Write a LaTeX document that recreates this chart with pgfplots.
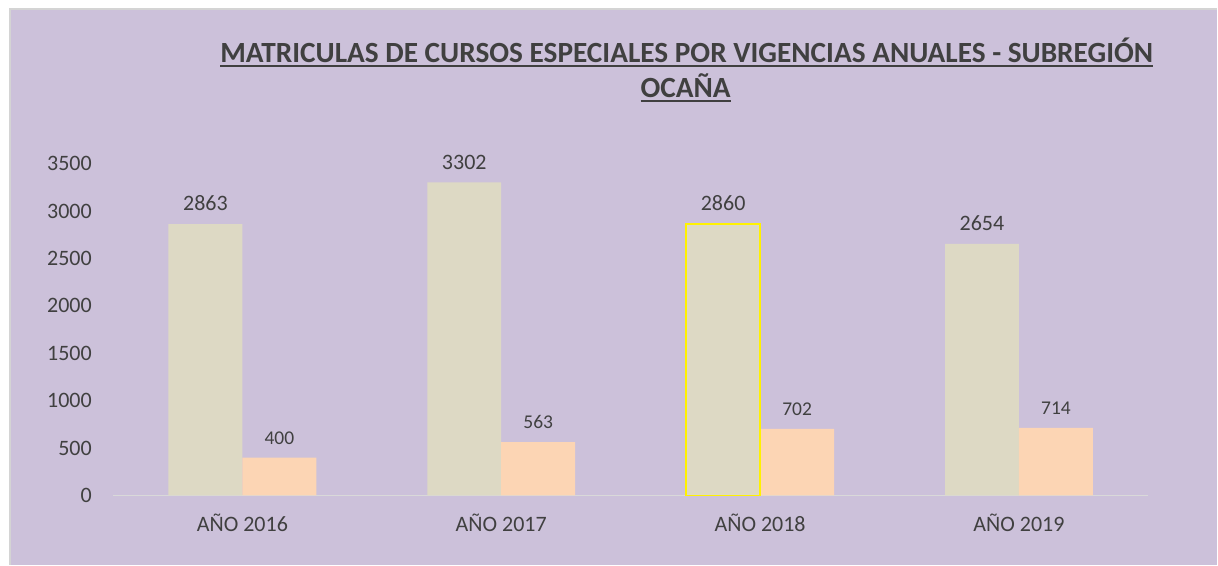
\documentclass[border=0pt]{standalone}
\usepackage{pgfplots}
\pgfplotsset{compat=1.18}
\usepackage{fontspec}
\setmainfont{Carlito}
\definecolor{bg}{HTML}{CCC1DA}
\definecolor{beige}{HTML}{DDD9C4}
\definecolor{peach}{HTML}{FCD5B4}
\definecolor{txt}{HTML}{404040}
\definecolor{baseln}{HTML}{D9D9D9}
\definecolor{frame}{HTML}{D4D4D4}
\newcommand\ul[1]{\setbox0\hbox{#1}\rlap{\rule[-4pt]{\wd0}{1.8pt}}\box0}
\begin{document}
\begin{tikzpicture}
\fill[white] (0,0) rectangle (1218pt,565pt);
\fill[bg] (10pt,0) rectangle (1218pt,556pt);
\draw[frame, line width=1.2pt] (10pt,0) -- (10pt,556pt) -- (1218pt,556pt);
\node[anchor=base, color=txt, font=\bfseries\fontsize{29.3}{34}\selectfont] at (687pt,502pt) {\ul{MATRICULAS DE CURSOS ESPECIALES POR VIGENCIAS ANUALES - SUBREGIÓN}};
\node[anchor=base, color=txt, font=\bfseries\fontsize{29.3}{34}\selectfont] at (686pt,467pt) {\ul{OCAÑA}};
\begin{axis}[
  at={(113pt,69.3pt)}, anchor=south west,
  scale only axis, width=1036pt, height=332pt,
  xmin=-0.5, xmax=3.5, ymin=0, ymax=3500,
  ytick={0,500,...,3500}, xtick={0,1,2,3},
  xticklabels={AÑO 2016,AÑO 2017,AÑO 2018,AÑO 2019},
  axis x line*=bottom, axis y line*=left,
  x axis line style={draw=baseln, line width=1.5pt, -},
  y axis line style={draw=none},
  major tick length=0pt, tick style={draw=none},
  /pgf/number format/1000 sep={},
  /pgf/number format/assume math mode=true,
  tick label style={font=\fontsize{22}{26}\selectfont, color=txt},
  yticklabel style={inner sep=0pt, xshift=-21pt},
  xticklabel style={anchor=base, inner sep=0pt, yshift=-36pt},
  ybar=0pt, bar width=74pt,
  nodes near coords,
  every node near coord/.append style={color=txt, inner sep=0pt, anchor=south, yshift=13pt},
  clip=false,
]
\addplot[fill=beige, draw=none, bar shift=-37pt,
  every node near coord/.append style={font=\fontsize{22}{26}\selectfont}]
  coordinates {(0,2863) (1,3302) (2,2860) (3,2654)};
\addplot[fill=peach, draw=none, bar shift=37pt,
  every node near coord/.append style={font=\fontsize{19.5}{23}\selectfont}]
  coordinates {(0,400) (1,563) (2,702) (3,714)};
\addplot[fill=none, draw=yellow, line width=1.8pt, bar shift=-37pt, forget plot, nodes near coords={}]
  coordinates {(2,2860)};
\end{axis}
\end{tikzpicture}
\end{document}
